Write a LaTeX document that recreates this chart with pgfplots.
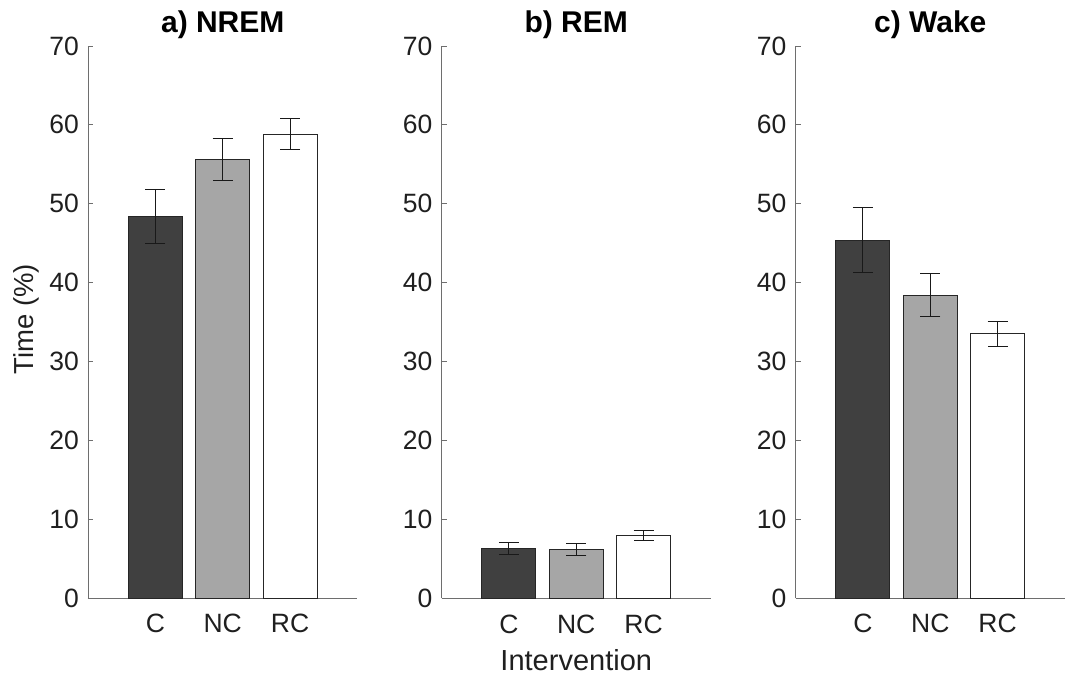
\documentclass[border=0pt]{standalone}
\usepackage{pgfplots}
\pgfplotsset{compat=1.18}
\usepackage{pgfplotstable}
\usepackage{fontspec}
\setmainfont{Liberation Sans}

\definecolor{cdark}{RGB}{64,64,64}
\definecolor{cmid}{RGB}{166,166,166}
\definecolor{axgray}{RGB}{110,110,110}

% columns: x y err
\pgfplotstableread{
x y e
1 48.4 3.45
}\NremC
\pgfplotstableread{
x y e
2 55.6 2.7
}\NremNC
\pgfplotstableread{
x y e
3 58.8 1.95
}\NremRC
\pgfplotstableread{
x y e
1 6.3 0.74
}\RemC
\pgfplotstableread{
x y e
2 6.15 0.72
}\RemNC
\pgfplotstableread{
x y e
3 7.95 0.63
}\RemRC
\pgfplotstableread{
x y e
1 45.4 4.1
}\WakeC
\pgfplotstableread{
x y e
2 38.4 2.7
}\WakeNC
\pgfplotstableread{
x y e
3 33.5 1.6
}\WakeRC

\pgfplotsset{
  panel/.style={
    anchor=south west,
    width=269.5pt, height=552pt, scale only axis,
    xmin=0, xmax=4, ymin=0, ymax=70,
    enlargelimits=false,
    axis x line=bottom, axis y line=left,
    axis line style={-, draw=axgray, line width=0.9pt},
    xtick={1,2,3}, xticklabels={C,NC,RC},
    ytick={0,10,...,70},
    major tick length=5pt, tick align=inside,
    ytick style={draw=axgray, line width=0.9pt},
    xtick style={draw=none},
    /pgf/number format/assume math mode=true,
    yticklabel style={anchor=east, inner sep=0pt, xshift=-9pt,
      font=\fontsize{26.5}{30}\selectfont, text=black!88},
    xticklabel style={anchor=base, inner sep=0pt, yshift=-35pt,
      font=\fontsize{26.5}{30}\selectfont, text=black!88},
    title style={at={(axis description cs:0.5,1)}, anchor=base, inner sep=0pt,
      yshift=8pt, font=\bfseries\fontsize{30}{33}\selectfont},
    clip=false,
  },
  errs/.style={
    /pgfplots/error bars/y dir=both,
    /pgfplots/error bars/y explicit,
    /pgfplots/error bars/error bar style={black!90, line width=1.1pt},
    /pgfplots/error bars/error mark options={rotate=90, black!90, line width=1.1pt, mark size=10pt}},
  barbase/.style={ybar, bar width=0.8, bar shift=0pt, draw=black!85, line width=0.9pt, errs},
}

\begin{document}
\begin{tikzpicture}
\useasboundingbox (0pt,0pt) rectangle (1069pt,675pt);

\begin{axis}[panel, at={(88pt,77pt)}, title={a) NREM},
  ylabel={Time (\%)},
  ylabel style={at={(axis description cs:-0.204,0.505)}, anchor=base, rotate=0, inner sep=0pt,
    font=\fontsize{27.5}{31}\selectfont, text=black!88}]
\addplot[barbase, fill=cdark] table[x=x, y=y, y error=e] {\NremC};
\addplot[barbase, fill=cmid] table[x=x, y=y, y error=e] {\NremNC};
\addplot[barbase, fill=white] table[x=x, y=y, y error=e] {\NremRC};
\end{axis}

\begin{axis}[panel, at={(441.5pt,77pt)}, title={b) REM},
  xlabel={Intervention},
  xlabel style={at={(axis description cs:0.5,0)}, anchor=base, inner sep=0pt, yshift=-72pt,
    font=\fontsize{29}{32}\selectfont, text=black!88}]
\addplot[barbase, fill=cdark] table[x=x, y=y, y error=e] {\RemC};
\addplot[barbase, fill=cmid] table[x=x, y=y, y error=e] {\RemNC};
\addplot[barbase, fill=white] table[x=x, y=y, y error=e] {\RemRC};
\end{axis}

\begin{axis}[panel, at={(795.5pt,77pt)}, title={c) Wake}]
\addplot[barbase, fill=cdark] table[x=x, y=y, y error=e] {\WakeC};
\addplot[barbase, fill=cmid] table[x=x, y=y, y error=e] {\WakeNC};
\addplot[barbase, fill=white] table[x=x, y=y, y error=e] {\WakeRC};
\end{axis}
\end{tikzpicture}
\end{document}
